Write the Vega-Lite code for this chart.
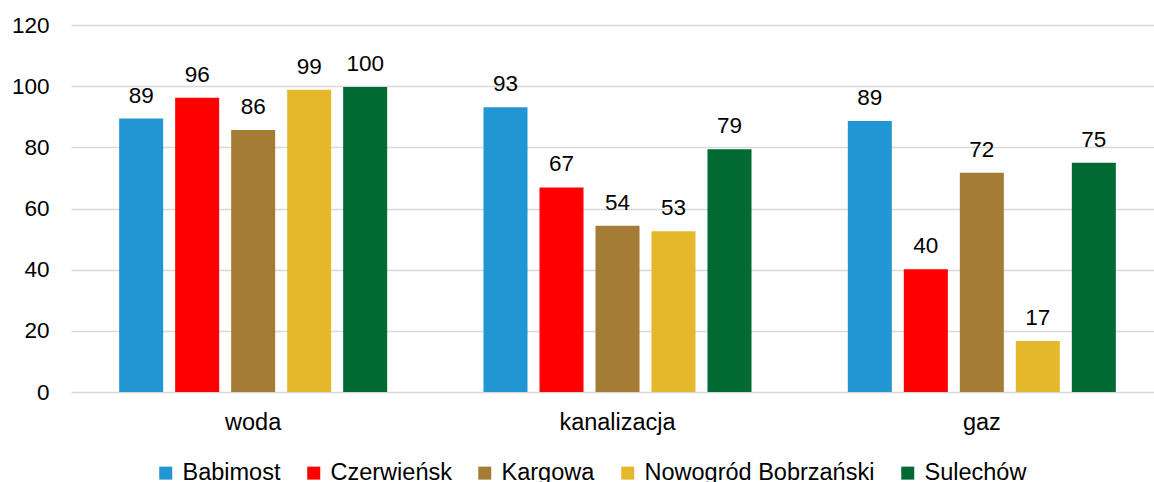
{
  "$schema": "https://vega.github.io/schema/vega-lite/v6.json",
  "width": 1083,
  "height": 367,
  "autosize": {"type": "none"},
  "padding": {"left": 71, "top": 25, "right": 0, "bottom": 90},
  "background": "white",
  "config": {
    "view": {"stroke": null},
    "font": "Liberation Sans",
    "axis": {"labelFont": "Liberation Sans", "labelColor": "#000000"},
    "legend": {"labelFont": "Liberation Sans", "labelColor": "#000000"}
  },
  "data": {
    "values": [
      {"kategoria": "woda", "gmina": "Babimost", "wartosc": 89.4},
      {"kategoria": "woda", "gmina": "Czerwieńsk", "wartosc": 96.2},
      {"kategoria": "woda", "gmina": "Kargowa", "wartosc": 85.7},
      {"kategoria": "woda", "gmina": "Nowogród Bobrzański", "wartosc": 98.8},
      {"kategoria": "woda", "gmina": "Sulechów", "wartosc": 99.7},
      {"kategoria": "kanalizacja", "gmina": "Babimost", "wartosc": 93.1},
      {"kategoria": "kanalizacja", "gmina": "Czerwieńsk", "wartosc": 66.9},
      {"kategoria": "kanalizacja", "gmina": "Kargowa", "wartosc": 54.4},
      {"kategoria": "kanalizacja", "gmina": "Nowogród Bobrzański", "wartosc": 52.6},
      {"kategoria": "kanalizacja", "gmina": "Sulechów", "wartosc": 79.4},
      {"kategoria": "gaz", "gmina": "Babimost", "wartosc": 88.6},
      {"kategoria": "gaz", "gmina": "Czerwieńsk", "wartosc": 40.1},
      {"kategoria": "gaz", "gmina": "Kargowa", "wartosc": 71.7},
      {"kategoria": "gaz", "gmina": "Nowogród Bobrzański", "wartosc": 16.7},
      {"kategoria": "gaz", "gmina": "Sulechów", "wartosc": 75.0}
    ]
  },
  "encoding": {
    "x": {
      "field": "kategoria",
      "type": "nominal",
      "sort": ["woda", "kanalizacja", "gaz"],
      "scale": {"range": [0, 1093], "paddingInner": 0, "paddingOuter": 0},
      "axis": {
        "title": null,
        "labelAngle": 0,
        "domain": false,
        "ticks": false,
        "tickSize": 0,
        "labelPadding": 18,
        "labelFontSize": 23.5,
        "grid": false
      }
    },
    "xOffset": {
      "field": "gmina",
      "type": "nominal",
      "sort": ["Babimost", "Czerwieńsk", "Kargowa", "Nowogród Bobrzański", "Sulechów"],
      "scale": {"paddingInner": 0.214, "paddingOuter": 0.86}
    },
    "y": {
      "field": "wartosc",
      "type": "quantitative",
      "scale": {"domain": [0, 120], "nice": false},
      "axis": {
        "title": null,
        "values": [0, 20, 40, 60, 80, 100, 120],
        "domain": false,
        "ticks": false,
        "tickSize": 0,
        "labelPadding": 22,
        "labelFontSize": 22.5,
        "grid": true,
        "gridColor": "#d9d9d9",
        "gridWidth": 1.3
      }
    }
  },
  "layer": [
    {
      "mark": {"type": "bar"},
      "encoding": {
        "color": {
          "field": "gmina",
          "type": "nominal",
          "sort": ["Babimost", "Czerwieńsk", "Kargowa", "Nowogród Bobrzański", "Sulechów"],
          "scale": {
            "domain": ["Babimost", "Czerwieńsk", "Kargowa", "Nowogród Bobrzański", "Sulechów"],
            "range": ["#2196d3", "#ff0000", "#a57c35", "#e5b82c", "#006a33"]
          },
          "legend": {
            "title": null,
            "orient": "none",
            "legendX": 83,
            "legendY": 436,
            "direction": "horizontal",
            "symbolType": "square",
            "symbolSize": 169,
            "symbolStrokeWidth": 0,
            "symbolOpacity": 1,
            "labelFontSize": 23.5,
            "labelLimit": 0,
            "labelOffset": 5,
            "columnPadding": 21
          }
        }
      }
    },
    {
      "mark": {"type": "text", "dy": -16, "baseline": "alphabetic", "fontSize": 22.5, "color": "#000000"},
      "encoding": {
        "text": {"field": "wartosc", "type": "quantitative", "format": ".0f"}
      }
    }
  ]
}
